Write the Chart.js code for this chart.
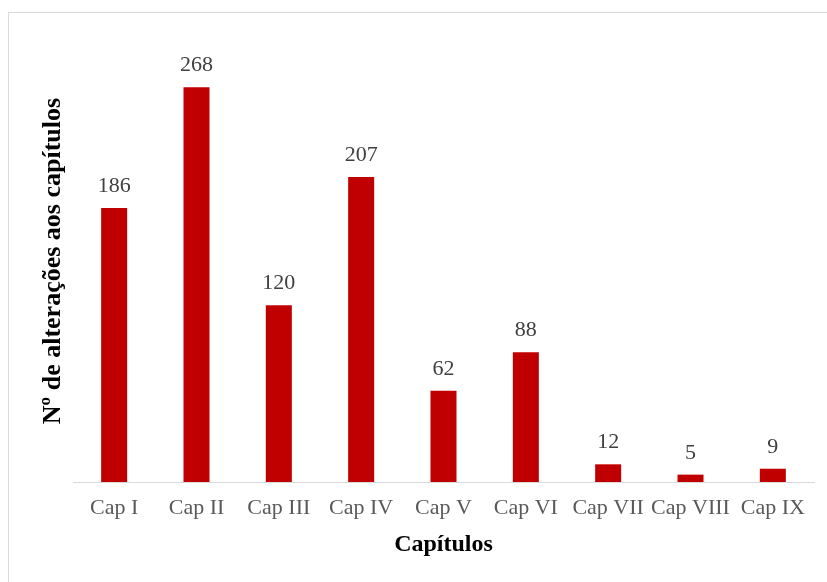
<!DOCTYPE html>
<html>
<head>
<meta charset="utf-8">
<script src="https://cdn.jsdelivr.net/npm/chart.js@4/dist/chart.umd.min.js"></script>
<style>
  html, body { margin: 0; padding: 0; background: #fff; overflow: hidden; }
  #wrap { position: relative; width: 827px; height: 582px; }
  #frame { position: absolute; left: 8px; top: 12px; width: 830px; height: 600px; border: 1px solid #d9d9d9; box-sizing: border-box; pointer-events: none; }
  canvas { position: absolute; left: 0; top: 0; }
</style>
</head>
<body>
<div id="wrap">
  <canvas id="c" width="827" height="582"></canvas>
  <div id="frame"></div>
</div>
<script>
const categories = ["Cap I", "Cap II", "Cap III", "Cap IV", "Cap V", "Cap VI", "Cap VII", "Cap VIII", "Cap IX"];
const changes = [186, 268, 120, 207, 62, 88, 12, 5, 9];
const xTitle = "Capítulos";
const yTitle = "Nº de alterações aos capítulos";

const valueLabels = {
  id: 'valueLabels',
  afterDatasetsDraw(chart) {
    const ctx = chart.ctx;
    const meta = chart.getDatasetMeta(0);
    ctx.save();
    ctx.font = '22px "Liberation Serif", "Times New Roman", serif';
    ctx.fillStyle = '#404040';
    ctx.textAlign = 'center';
    ctx.textBaseline = 'alphabetic';
    meta.data.forEach((bar, i) => {
      ctx.fillText(String(chart.data.datasets[0].data[i]), bar.x, bar.y - 16);
    });
    ctx.restore();
  }
};

new Chart(document.getElementById('c'), {
  type: 'bar',
  data: {
    labels: categories,
    datasets: [{
      data: changes,
      backgroundColor: '#C00000',
      borderWidth: 0,
      categoryPercentage: 1,
      barPercentage: 0.316
    }]
  },
  options: {
    responsive: false,
    animation: false,
    devicePixelRatio: 1,
    layout: { padding: { left: 34, right: 13, top: 40, bottom: 19 } },
    plugins: { legend: { display: false }, tooltip: { enabled: false } },
    scales: {
      x: {
        grid: { display: false, drawTicks: false },
        border: { display: true, color: '#d9d9d9', width: 1 },
        afterFit(scale) { scale.height = 81; },
        ticks: {
          color: '#595959',
          font: { family: '"Liberation Serif", "Times New Roman", serif', size: 22 },
          padding: 13,
          maxRotation: 0,
          autoSkip: false
        },
        title: {
          display: true,
          text: xTitle,
          color: '#000',
          font: { family: '"Liberation Serif", "Times New Roman", serif', size: 24, weight: 'bold' },
          padding: { top: 10, bottom: 4 }
        }
      },
      y: {
        min: 0,
        max: 300,
        grid: { display: false, drawTicks: false },
        border: { display: false },
        ticks: { display: false },
        afterFit(scale) { scale.width = 39; },
        title: {
          display: true,
          text: yTitle,
          color: '#000',
          font: { family: '"Liberation Serif", "Times New Roman", serif', size: 26, weight: 'bold' },
          padding: { top: 4, bottom: 4 }
        }
      }
    }
  },
  plugins: [valueLabels]
});
</script>
</body>
</html>
